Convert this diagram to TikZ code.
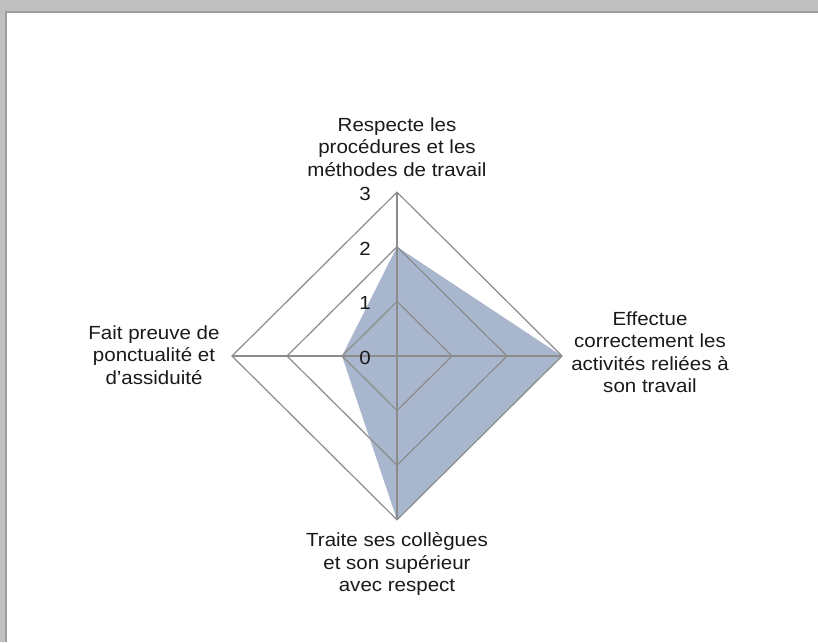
\documentclass[tikz,border=0pt]{standalone}
\usepackage{fontspec}
\setmainfont{Liberation Sans}[FakeStretch=1.08]
\definecolor{framegray}{HTML}{C0C0C0}
\definecolor{edgegray}{HTML}{9E9E9E}
\definecolor{gridgray}{HTML}{8C8C8C}
\definecolor{areafill}{HTML}{A9B7CE}
\definecolor{txt}{HTML}{1A1A1A}
\tikzset{
  gridline/.style={draw=gridgray, line width=1.2pt},
  axislabel/.style={align=center, text=txt, inner sep=0pt, font=\fontsize{19}{22.5}\selectfont},
  ticklabel/.style={text=txt, inner sep=0pt, font=\fontsize{19}{22}\selectfont},
}
\begin{document}
\begin{tikzpicture}[x=1pt,y=-1pt]
\useasboundingbox (0,0) rectangle (818,642);
% window frame
\fill[framegray] (0,0) rectangle (818,642);
\fill[white] (7,13) rectangle (818,642);
\draw[edgegray, line width=2pt] (6,642) -- (6,12) -- (818,12);
% geometry
\def\cx{397}\def\cy{356}\def\ux{55}\def\uy{54.6}
\coordinate (c) at (\cx,\cy);
\coordinate (t3) at (\cx,\cy-3*\uy);
\coordinate (r3) at (\cx+3*\ux,\cy);
\coordinate (b3) at (\cx,\cy+3*\uy);
\coordinate (l3) at (\cx-3*\ux,\cy);
% data area
\fill[areafill] (\cx,\cy-2*\uy) -- (\cx+3*\ux,\cy) -- (\cx,\cy+3*\uy) -- (\cx-1*\ux,\cy) -- cycle;
% grid rings
\foreach \k in {1,2,3}{
  \draw[gridline] (\cx,\cy-\k*\uy) -- (\cx+\k*\ux,\cy) -- (\cx,\cy+\k*\uy) -- (\cx-\k*\ux,\cy) -- cycle;
}
% axes
\draw[gridline] (l3) -- (r3);
\draw[gridline] (t3) -- (b3);
% tick labels
\foreach \k in {0,1,2,3}{
  \node[ticklabel] (tick\k) at (365,\cy+2-\k*\uy) {\k};
}
% axis labels
\node[axislabel] (top) at (397,147) {Respecte les\\procédures et les\\méthodes de travail};
\node[axislabel] (right) at (650,352) {Effectue\\correctement les\\activités reliées à\\son travail};
\node[axislabel] (left) at (154,355) {Fait preuve de\\ponctualité et\\d’assiduité};
\node[axislabel] (bottom) at (397,564) {Traite ses collègues\\et son supérieur\\avec respect};
\end{tikzpicture}
\end{document}
